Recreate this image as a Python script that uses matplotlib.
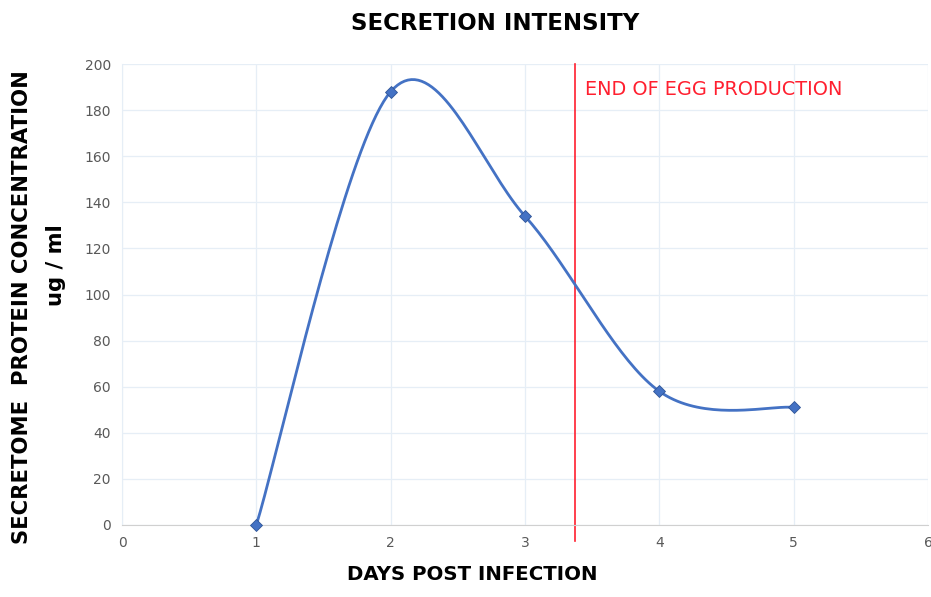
import numpy as np
import matplotlib
matplotlib.use("Agg")
import matplotlib.pyplot as plt

plt.rcParams['font.family'] = ['DejaVu Sans']

# data
days = [1, 2, 3, 4, 5]
concentration = [0, 188, 134, 58, 51]
egg_end_day = 3.37
x_ticks = [0, 1, 2, 3, 4, 5, 6]
y_ticks = [0, 20, 40, 60, 80, 100, 120, 140, 160, 180, 200]


def smooth_curve(xs, ys, n=40):
    # Catmull-Rom style smoothing, like a spreadsheet "smoothed line"
    xs = np.asarray(xs, float)
    ys = np.asarray(ys, float)
    px = np.concatenate([[xs[0]], xs, [xs[-1]]])
    py = np.concatenate([[ys[0]], ys, [ys[-1]]])
    out_x, out_y = [], []
    t = np.linspace(0, 1, n)
    for i in range(1, len(px) - 2):
        p0, p1, p2, p3 = (np.array([px[j], py[j]]) for j in (i - 1, i, i + 1, i + 2))
        c1 = p1 + (p2 - p0) / 6
        c2 = p2 - (p3 - p1) / 6
        b = ((1 - t) ** 3)[:, None] * p1 + (3 * (1 - t) ** 2 * t)[:, None] * c1 \
            + (3 * (1 - t) * t ** 2)[:, None] * c2 + (t ** 3)[:, None] * p2
        out_x.extend(b[:, 0])
        out_y.extend(b[:, 1])
    return out_x, out_y


fig = plt.figure(figsize=(9.31, 5.97), dpi=100)
ax = fig.add_axes([122 / 931, 72 / 597, 806 / 931, 461 / 597])

sx, sy = smooth_curve(days, concentration)
ax.plot(sx, sy, color='#4472C4', lw=2, zorder=3)
ax.plot(days, concentration, ls='none', marker='D', ms=6.5, color='#4472C4',
        markeredgecolor='#2F5597', markeredgewidth=0.6, zorder=4, clip_on=False)

ax.axvline(egg_end_day, ymin=-0.035, ymax=1.0, color='#FF1F2F', lw=1.2, clip_on=False, zorder=2)
ax.text(egg_end_day + 0.08, 189, 'END OF EGG PRODUCTION', color='#FF1F2F',
        fontsize=13.9, va='center', ha='left')

ax.set_xlim(0, 6)
ax.set_ylim(0, 200)
ax.set_xticks(x_ticks)
ax.set_yticks(y_ticks)
ax.grid(True, color='#E6EEF6', lw=0.9)
ax.set_axisbelow(True)
for side in ['top', 'right']:
    ax.spines[side].set_visible(False)
ax.spines['left'].set_color('#E6EEF6')
ax.spines['bottom'].set_color('#D0D0D0')
ax.tick_params(length=0, labelsize=10, colors='#595959', pad=8)

fig.text(0.532, 0.96, 'SECRETION INTENSITY', ha='center', va='center',
         fontsize=16.5, fontweight='bold')
fig.text(0.507, 0.022, 'DAYS POST INFECTION', ha='center', va='bottom',
         fontsize=14.2, fontweight='bold')
fig.text(0.024, 0.485, 'SECRETOME  PROTEIN CONCENTRATION', rotation=90,
         ha='center', va='center', fontsize=15.2, fontweight='bold')
fig.text(0.06, 0.556, 'ug / ml', rotation=90, ha='center', va='center',
         fontsize=15.2, fontweight='bold')

fig.savefig('out.png', dpi=100)
